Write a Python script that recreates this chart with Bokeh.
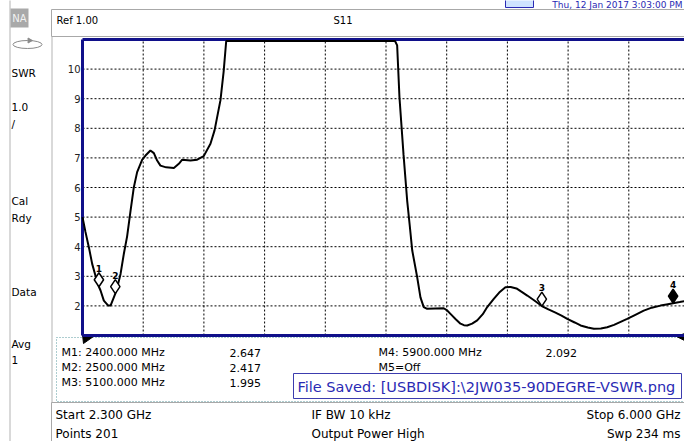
import math
from bokeh.plotting import figure
from bokeh.models import Range1d, ColumnDataSource
from bokeh.core.properties import value
from bokeh.embed import file_html
from bokeh.resources import INLINE

# ---------------- data ----------------
start_ghz = 2.3
stop_ghz = 6.0
ref_swr = 1.0
swr_per_div = 1.0
n_div = 10

freq_ghz = [2.300, 2.318, 2.340, 2.359, 2.380, 2.400, 2.410, 2.430, 2.457, 2.471,
            2.491, 2.500, 2.512, 2.532, 2.552, 2.572, 2.593, 2.613, 2.633, 2.664,
            2.684, 2.714, 2.735, 2.755, 2.775, 2.810, 2.857, 2.887, 2.908, 2.958,
            2.999, 3.039, 3.080, 3.105, 3.141, 3.160, 3.176, 3.200, 3.500, 3.800,
            4.100, 4.205, 4.218, 4.232, 4.257, 4.279, 4.295, 4.310, 4.340, 4.360,
            4.380, 4.401, 4.450, 4.502, 4.520, 4.543, 4.575, 4.604, 4.625, 4.645,
            4.675, 4.706, 4.740, 4.767, 4.807, 4.840, 4.878, 4.910, 4.945, 4.975,
            5.011, 5.050, 5.100, 5.140, 5.180, 5.220, 5.255, 5.300, 5.336, 5.380,
            5.417, 5.460, 5.498, 5.540, 5.580, 5.620, 5.670, 5.721, 5.770, 5.823,
            5.860, 5.900, 5.940, 5.969, 6.000]
swr = [5.00, 4.50, 3.95, 3.42, 3.00, 2.647, 2.52, 2.18, 2.01, 2.01,
       2.29, 2.417, 2.63, 3.08, 3.76, 4.35, 5.22, 6.01, 6.52, 6.94,
       7.08, 7.25, 7.16, 6.91, 6.74, 6.68, 6.66, 6.80, 6.94, 6.91,
       6.94, 7.06, 7.48, 7.93, 8.95, 9.90, 10.95, 10.95, 10.95, 10.95,
       10.95, 10.95, 10.80, 9.05, 7.10, 5.56, 4.70, 3.87, 2.97, 2.29,
       1.96, 1.90, 1.91, 1.92, 1.86, 1.73, 1.55, 1.40, 1.35, 1.34,
       1.40, 1.51, 1.72, 1.96, 2.24, 2.45, 2.63, 2.64, 2.59, 2.48,
       2.35, 2.20, 1.995, 1.88, 1.78, 1.67, 1.56, 1.44, 1.34, 1.27,
       1.23, 1.24, 1.28, 1.36, 1.46, 1.56, 1.70, 1.84, 1.94, 2.01,
       2.05, 2.092, 2.13, 2.16, 2.20]

marker_ids = ["1", "2", "3", "4"]
marker_freq = [2.4, 2.5, 5.1, 5.9]
marker_swr = [2.647, 2.417, 1.995, 2.092]
marker_active = [False, False, False, True]

y_tick_values = [2, 3, 4, 5, 6, 7, 8, 9, 10]

sidebar_items = ["SWR", "1.0", "/", "Cal", "Rdy", "Data", "Avg", "1"]
marker_rows_left = ["M1:  2400.000 MHz", "M2:  2500.000 MHz", "M3:  5100.000 MHz"]
marker_vals_left = ["2.647", "2.417", "1.995"]
marker_rows_right = ["M4:  5900.000 MHz", "M5=Off"]
marker_vals_right = ["2.092"]
status_left = ["Start 2.300 GHz", "Points 201"]
status_mid = ["IF BW 10 kHz", "Output Power High"]
status_right = ["Stop 6.000 GHz", "Swp 234 ms"]
header_ref = "Ref 1.00"
header_param = "S11"
date_text = "Thu, 12 Jan 2017 3:03:00 PM"
file_msg = "File Saved: [USBDISK]:\\2JW035-90DEGRE-VSWR.png"

# ---------------- layout (page pixels) ----------------
W, H = 684, 441
F_LEFT, F_TOP, F_BOTTOM = 82, 39, 335           # graticule edges
PX_PER_GHZ = 607 / (stop_ghz - start_ghz)       # full span is 607 px wide
y_top = ref_swr + n_div * swr_per_div
PX_PER_UNIT = (F_BOTTOM - F_TOP) / (y_top - ref_swr)

x0 = start_ghz - F_LEFT / PX_PER_GHZ
x1 = start_ghz + (W - F_LEFT) / PX_PER_GHZ
y0 = ref_swr - (H - F_BOTTOM) / PX_PER_UNIT
y1 = ref_swr + F_BOTTOM / PX_PER_UNIT

FONT = "DejaVu Sans"
NAVY = "#10108a"
GRAYLINE = "#a8a8a8"

p = figure(width=W, height=H, output_backend="svg", toolbar_location=None,
           x_range=Range1d(x0, x1), y_range=Range1d(y0, y1),
           min_border=0, min_border_left=0, min_border_right=0,
           min_border_top=0, min_border_bottom=0,
           background_fill_color="white", border_fill_color="white",
           outline_line_color=None)
p.title.visible = False
p.axis.visible = False
p.grid.visible = False

# pixel ranges for the instrument's panels
p.extra_x_ranges = {"cx": Range1d(0, W)}
p.extra_y_ranges = {"cy": Range1d(H, 0)}
PX = dict(x_range_name="cx", y_range_name="cy")


def box(l, r, t, b, fill="white", line=GRAYLINE, dash="solid", lw=1):
    p.quad(left=[l], right=[r], top=[t], bottom=[b], fill_color=fill,
           line_color=line, line_width=lw, line_dash=dash, **PX)


def label(x, y, text, size="11px", color="black", align="left", base="middle", style="normal"):
    p.text(x=[x], y=[y], text=[text], text_font=value(FONT), text_font_size=size,
           text_color=color, text_align=align, text_baseline=base,
           text_font_style=style, **PX)


# ---------------- instrument panels ----------------
box(9, 10, -5, 446, fill="#b4b4b4", line=None)          # sidebar edge
box(51, 52, 36, 446, fill="#b4b4b4", line=None)         # sidebar separator
box(51, 700, 9, 36)                                      # header
box(56, 700, 337, 401, fill=None, line="#5b9aa0", dash="1 2")  # marker table
box(51, 700, 402, 446)                                   # status bar
box(10, 28, 8, 27, fill="#a9a9a9", line=None)            # NA tag
label(19, 18, "NA", size="10px", color="#f2f2f2", align="center")

# date line at the very top of the screen
box(505, 533, -6, 7, fill="#cfe3ff", line="#2a2ab4")
label(682, 4, date_text, size="9px", color="#2a2ab4", align="right")

# sidebar icon
p.ellipse(x=[27], y=[44], width=[29], height=[8], fill_color=None,
          line_color="#8a8a8a", line_width=1, **PX)
p.scatter(x=[29], y=[40], marker="triangle", angle=-math.pi / 2, size=5,
          fill_color="#8a8a8a", line_color="#8a8a8a", **PX)

sidebar_y = [72, 106, 123, 200, 217, 291, 343, 359]
for t, yy in zip(sidebar_items, sidebar_y):
    label(11, yy, t, size="10.5px")

label(56, 20, header_ref, size="10px")
label(333, 20, header_param, size="10px")

row_y = [352, 367, 382]
for t, v, yy in zip(marker_rows_left, marker_vals_left, row_y):
    label(61, yy, t)
    label(229, yy, v)
for t, yy in zip(marker_rows_right, row_y):
    label(378, yy, t)
for v, yy in zip(marker_vals_right, row_y):
    label(545, yy, v)

box(293, 681, 373, 398, fill="white", line="#3c3cae")
label(297, 386, file_msg, size="14.5px", color="#2a2ab4")

for t, yy in zip(status_left, (414, 433)):
    label(55, yy, t, size="12px")
for t, yy in zip(status_mid, (414, 433)):
    label(311, yy, t, size="12px")
for t, yy in zip(status_right, (414, 433)):
    label(680, yy, t, size="12px", align="right")

# sweep start / end indicators under the graticule
p.patch(x=[82, 93, 83], y=[334, 336, 343], fill_color="black", line_color="black", **PX)
p.patch(x=[684, 676, 684], y=[333, 336, 340], fill_color="black", line_color="black", **PX)

# ---------------- graticule ----------------
div_ghz = (stop_ghz - start_ghz) / n_div
vx = [start_ghz + k * div_ghz for k in range(1, n_div + 1)]
p.segment(x0=vx, y0=[ref_swr] * len(vx), x1=vx, y1=[y_top] * len(vx),
          line_color="black", line_width=1, line_dash="2 2")
p.segment(x0=[start_ghz] * len(y_tick_values), y0=y_tick_values,
          x1=[stop_ghz] * len(y_tick_values), y1=y_tick_values,
          line_color="black", line_width=1, line_dash="2 2")
p.text(x=[start_ghz] * len(y_tick_values), y=y_tick_values,
       text=[str(v) for v in y_tick_values], x_offset=-2, text_align="right",
       text_baseline="middle", text_font=value(FONT), text_font_size="10px",
       text_color="#222222")

# frame border (left, top, bottom)
p.segment(x0=[start_ghz, start_ghz, start_ghz], y0=[ref_swr, y_top, ref_swr],
          x1=[start_ghz, stop_ghz, stop_ghz], y1=[y_top, y_top, ref_swr],
          line_color=NAVY, line_width=3)

# ---------------- trace ----------------
src = ColumnDataSource(dict(f=freq_ghz, s=swr))
p.line("f", "s", source=src, line_color="black", line_width=2)

# ---------------- markers ----------------
half = 7
msrc = ColumnDataSource(dict(
    f=marker_freq,
    sc=[v + half / PX_PER_UNIT for v in marker_swr],
    s=marker_swr,
    fill=["black" if a else "white" for a in marker_active],
    t=marker_ids))
p.scatter("f", "sc", source=msrc, marker="diamond", size=2 * half,
          fill_color="fill", line_color="black", line_width=1.5)
p.text("f", "s", text="t", source=msrc, y_offset=-2 * half - 1, text_align="center",
       text_baseline="bottom", text_font=value(FONT), text_font_size="9px",
       text_font_style="bold", text_color="black")

open("out.html", "w").write(file_html(p, INLINE))
